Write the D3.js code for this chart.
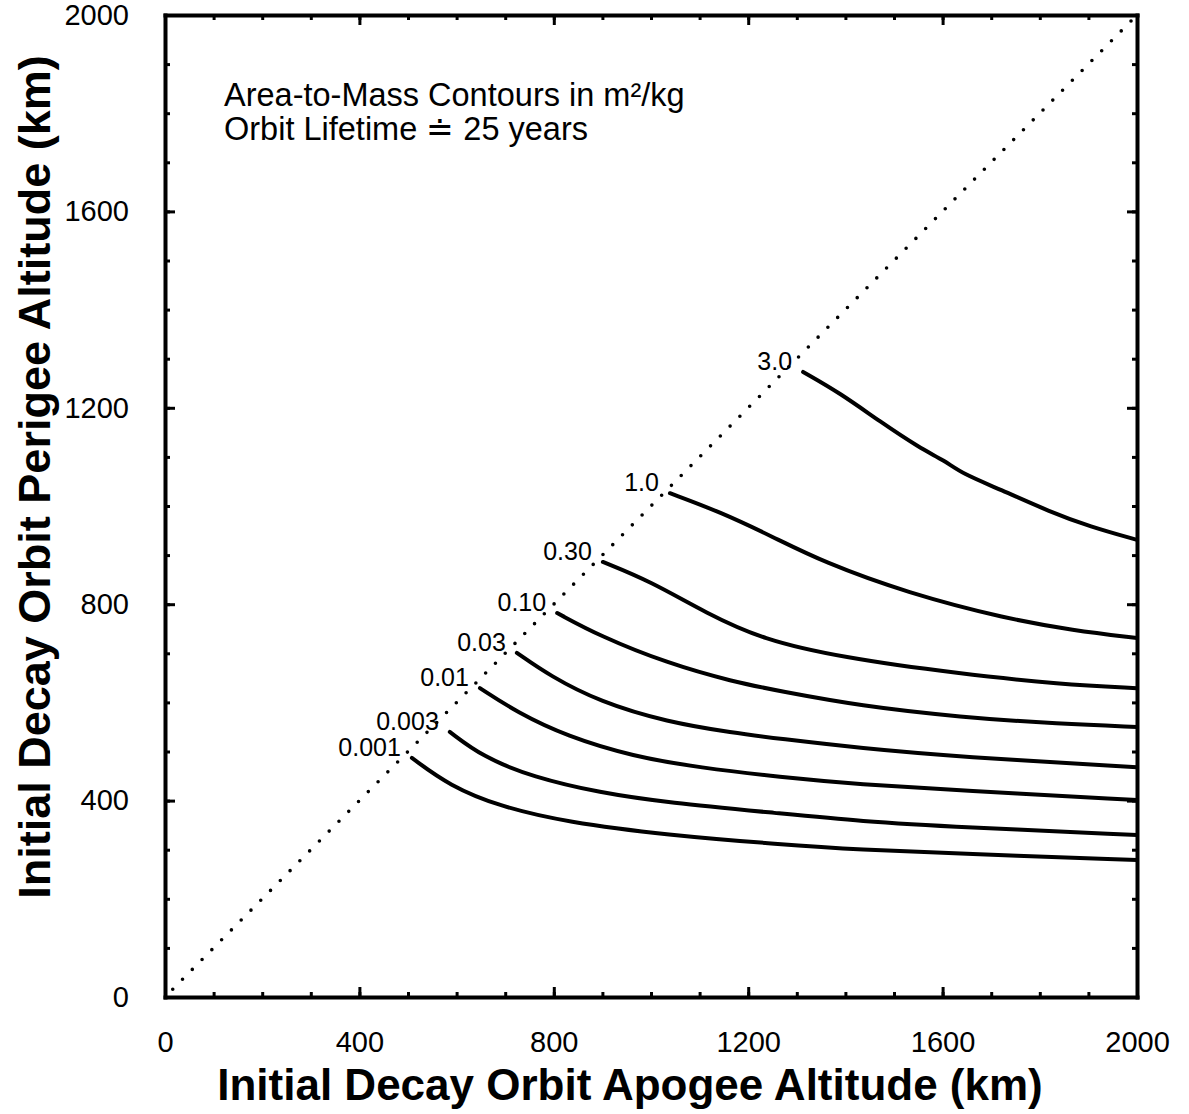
<!DOCTYPE html>
<html>
<head>
<meta charset="utf-8">
<script src="https://cdn.jsdelivr.net/npm/d3@7"></script>
<style>
  body { margin: 0; background: #fff; }
  svg { display: block; }
  text { font-family: "Liberation Sans", Arial, Helvetica, sans-serif; fill: #000; }
</style>
</head>
<body>
<svg id="chart" width="1189" height="1114"></svg>
<script>
// ---------- data ----------
const apogeeTicks  = [0, 400, 800, 1200, 1600, 2000];
const perigeeTicks = [0, 400, 800, 1200, 1600, 2000];
const minorTicks   = [0,100,200,300,400,500,600,700,800,900,1000,1100,1200,1300,1400,1500,1600,1700,1800,1900,2000];

const contourLevels = ["3.0", "1.0", "0.30", "0.10", "0.03", "0.01", "0.003", "0.001"];

// [apogee km, perigee km]
const am3_0   = [[1313,1273],[1389,1230],[1471,1172],[1553,1118],[1605,1092],[1640,1066],[1718,1034],[1821,988],[1903,958],[2000,931]];
const am1_0   = [[1039,1026],[1142,988],[1251,937],[1354,886],[1527,823],[1733,770],[1868,747],[2000,731]];
const am0_30  = [[901,886],[998,847],[1115,781],[1230,728],[1389,692],[1636,658],[1842,637],[2000,629]];
const am0_10  = [[807,782],[895,735],[1033,680],[1169,642],[1265,623],[1430,593],[1636,570],[1842,556],[2000,550]];
const am0_03  = [[724,701],[792,654],[895,601],[1033,560],[1169,538],[1265,526],[1430,507],[1636,489],[2000,468]];
const am0_01  = [[648,629],[724,580],[827,531],[963,490],[1101,467],[1265,448],[1430,433],[1636,421],[2000,401]];
const am0_003 = [[586,540],[654,489],[757,448],[895,416],[1033,396],[1265,374],[1430,358],[1636,346],[2000,330]];
const am0_001 = [[508,487],[586,430],[689,388],[827,356],[1033,330],[1265,311],[1430,300],[1636,292],[2000,279]];
const contourSeries = [am3_0, am1_0, am0_30, am0_10, am0_03, am0_01, am0_003, am0_001];

const diagonal = [[0,0],[2000,2000]];

const xTitle = "Initial Decay Orbit Apogee Altitude (km)";
const yTitle = "Initial Decay Orbit Perigee Altitude (km)";
const noteLines = ["Area-to-Mass Contours in m\u00B2/kg", "Orbit Lifetime \u2250 25 years"];

// ---------- chart ----------
const svg = d3.select("#chart");
const x = d3.scaleLinear().domain([0, 2000]).range([165, 1137]);
const y = d3.scaleLinear().domain([0, 2000]).range([997, 15]);

function styleAxis(g, keepDomain) {
  if (keepDomain) {
    g.select(".domain").attr("stroke", "#000").attr("stroke-width", 4).attr("stroke-linecap", "square");
  } else {
    g.select(".domain").remove();
  }
  g.selectAll(".tick line").attr("stroke", "#000").attr("stroke-width", 3);
  g.selectAll(".tick text").attr("font-size", 29).attr("fill", "#000")
    .style("font-family", '"Liberation Sans", Arial, Helvetica, sans-serif');
}

// minor ticks
svg.append("g").attr("transform", `translate(0,${y(0)})`)
  .call(d3.axisBottom(x).tickValues(minorTicks).tickSize(-5).tickSizeOuter(0).tickFormat(""))
  .call(g => styleAxis(g, false));
svg.append("g").attr("transform", `translate(0,${y(2000)})`)
  .call(d3.axisTop(x).tickValues(minorTicks).tickSize(-5).tickSizeOuter(0).tickFormat(""))
  .call(g => styleAxis(g, false));
svg.append("g").attr("transform", `translate(${x(0)},0)`)
  .call(d3.axisLeft(y).tickValues(minorTicks).tickSize(-5).tickSizeOuter(0).tickFormat(""))
  .call(g => styleAxis(g, false));
svg.append("g").attr("transform", `translate(${x(2000)},0)`)
  .call(d3.axisRight(y).tickValues(minorTicks).tickSize(-5).tickSizeOuter(0).tickFormat(""))
  .call(g => styleAxis(g, false));

// major ticks + frame
svg.append("g").attr("transform", `translate(0,${y(0)})`)
  .call(d3.axisBottom(x).tickValues(apogeeTicks).tickSize(-10).tickSizeOuter(0).tickPadding(34).tickFormat(d3.format("d")))
  .call(g => styleAxis(g, true));
svg.append("g").attr("transform", `translate(0,${y(2000)})`)
  .call(d3.axisTop(x).tickValues(apogeeTicks).tickSize(-10).tickSizeOuter(0).tickFormat(""))
  .call(g => styleAxis(g, true));
svg.append("g").attr("transform", `translate(${x(0)},0)`)
  .call(d3.axisLeft(y).tickValues(perigeeTicks).tickSize(-10).tickSizeOuter(0).tickPadding(36).tickFormat(d3.format("d")))
  .call(g => styleAxis(g, true));
svg.append("g").attr("transform", `translate(${x(2000)},0)`)
  .call(d3.axisRight(y).tickValues(perigeeTicks).tickSize(-10).tickSizeOuter(0).tickFormat(""))
  .call(g => styleAxis(g, true));

// dotted diagonal
const line = d3.line().x(d => x(d[0])).y(d => y(d[1]));
svg.append("path")
  .attr("d", line(diagonal))
  .attr("fill", "none")
  .attr("stroke", "#000")
  .attr("stroke-width", 3.6)
  .attr("stroke-linecap", "round")
  .attr("stroke-dasharray", "0,13.9")
  .attr("stroke-dashoffset", -11);

// contours
const smooth = d3.line().x(d => x(d[0])).y(d => y(d[1])).curve(d3.curveBasis);
svg.append("g").selectAll("path")
  .data(contourSeries)
  .join("path")
  .attr("d", d => smooth(d))
  .attr("fill", "none")
  .attr("stroke", "#000")
  .attr("stroke-width", 4)
  .attr("stroke-linecap", "round")
  .attr("stroke-linejoin", "round");

// contour labels
svg.append("g").selectAll("text")
  .data(contourSeries)
  .join("text")
  .attr("x", d => x(d[0][0]) - 11)
  .attr("y", d => y(d[0][1]) - 2)
  .attr("text-anchor", "end")
  .attr("font-size", 25)
  .text((d, i) => contourLevels[i]);

// annotation
svg.append("g").selectAll("text")
  .data(noteLines)
  .join("text")
  .attr("x", 224)
  .attr("y", (d, i) => 106 + i * 34)
  .attr("font-size", 32.5)
  .text(d => d);

// axis titles
svg.append("text")
  .attr("x", 630).attr("y", 1100)
  .attr("text-anchor", "middle")
  .attr("font-size", 44).attr("font-weight", "bold")
  .text(xTitle);
svg.append("text")
  .attr("transform", "translate(50,477) rotate(-90)")
  .attr("text-anchor", "middle")
  .attr("font-size", 45).attr("font-weight", "bold")
  .text(yTitle);
</script>
</body>
</html>
